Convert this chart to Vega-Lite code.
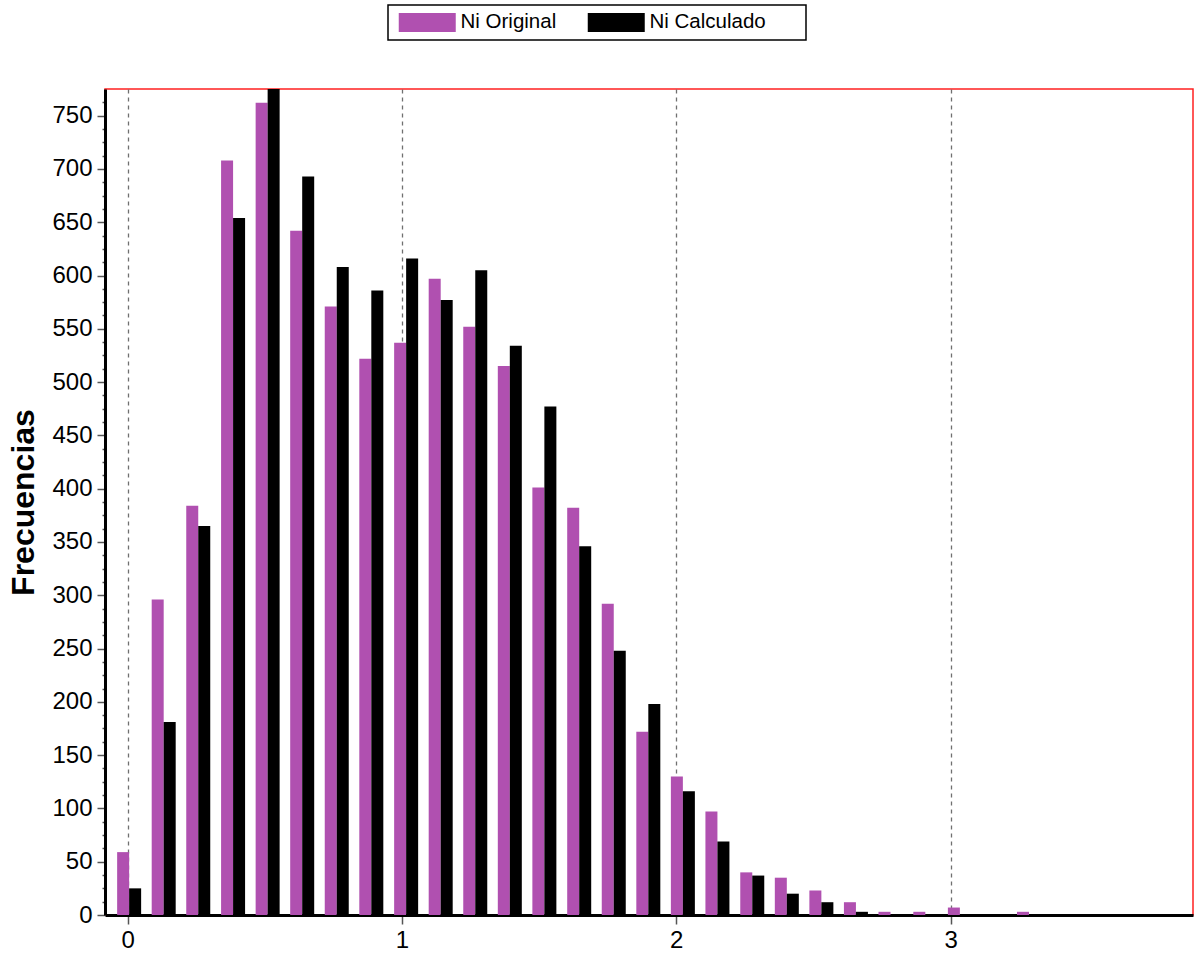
{
  "$schema": "https://vega.github.io/schema/vega-lite/v6.json",
  "width": 1088,
  "height": 826,
  "autosize": {"type": "none"},
  "padding": {"left": 105, "top": 89, "right": 6, "bottom": 40},
  "background": "white",
  "config": {
    "view": {"stroke": "#FF2020", "strokeWidth": 1.5},
    "font": "Liberation Sans",
    "axis": {"labelFont": "Liberation Sans", "titleFont": "Liberation Sans"}
  },
  "data": {
    "values": [
      {"x": 0.005, "serie": "Ni Original", "n": 59}, {"x": 0.005, "serie": "Ni Calculado", "n": 25},
      {"x": 0.131, "serie": "Ni Original", "n": 296}, {"x": 0.131, "serie": "Ni Calculado", "n": 181},
      {"x": 0.257, "serie": "Ni Original", "n": 384}, {"x": 0.257, "serie": "Ni Calculado", "n": 365},
      {"x": 0.384, "serie": "Ni Original", "n": 708}, {"x": 0.384, "serie": "Ni Calculado", "n": 654},
      {"x": 0.510, "serie": "Ni Original", "n": 762}, {"x": 0.510, "serie": "Ni Calculado", "n": 785},
      {"x": 0.636, "serie": "Ni Original", "n": 642}, {"x": 0.636, "serie": "Ni Calculado", "n": 693},
      {"x": 0.762, "serie": "Ni Original", "n": 571}, {"x": 0.762, "serie": "Ni Calculado", "n": 608},
      {"x": 0.888, "serie": "Ni Original", "n": 522}, {"x": 0.888, "serie": "Ni Calculado", "n": 586},
      {"x": 1.015, "serie": "Ni Original", "n": 537}, {"x": 1.015, "serie": "Ni Calculado", "n": 616},
      {"x": 1.141, "serie": "Ni Original", "n": 597}, {"x": 1.141, "serie": "Ni Calculado", "n": 577},
      {"x": 1.267, "serie": "Ni Original", "n": 552}, {"x": 1.267, "serie": "Ni Calculado", "n": 605},
      {"x": 1.393, "serie": "Ni Original", "n": 515}, {"x": 1.393, "serie": "Ni Calculado", "n": 534},
      {"x": 1.519, "serie": "Ni Original", "n": 401}, {"x": 1.519, "serie": "Ni Calculado", "n": 477},
      {"x": 1.646, "serie": "Ni Original", "n": 382}, {"x": 1.646, "serie": "Ni Calculado", "n": 346},
      {"x": 1.772, "serie": "Ni Original", "n": 292}, {"x": 1.772, "serie": "Ni Calculado", "n": 248},
      {"x": 1.898, "serie": "Ni Original", "n": 172}, {"x": 1.898, "serie": "Ni Calculado", "n": 198},
      {"x": 2.024, "serie": "Ni Original", "n": 130}, {"x": 2.024, "serie": "Ni Calculado", "n": 116},
      {"x": 2.150, "serie": "Ni Original", "n": 97}, {"x": 2.150, "serie": "Ni Calculado", "n": 69},
      {"x": 2.277, "serie": "Ni Original", "n": 40}, {"x": 2.277, "serie": "Ni Calculado", "n": 37},
      {"x": 2.403, "serie": "Ni Original", "n": 35}, {"x": 2.403, "serie": "Ni Calculado", "n": 20},
      {"x": 2.529, "serie": "Ni Original", "n": 23}, {"x": 2.529, "serie": "Ni Calculado", "n": 12},
      {"x": 2.655, "serie": "Ni Original", "n": 12}, {"x": 2.655, "serie": "Ni Calculado", "n": 3},
      {"x": 2.781, "serie": "Ni Original", "n": 3}, {"x": 2.781, "serie": "Ni Calculado", "n": 0},
      {"x": 2.908, "serie": "Ni Original", "n": 3}, {"x": 2.908, "serie": "Ni Calculado", "n": 0},
      {"x": 3.034, "serie": "Ni Original", "n": 7}, {"x": 3.034, "serie": "Ni Calculado", "n": 0},
      {"x": 3.160, "serie": "Ni Original", "n": 0}, {"x": 3.160, "serie": "Ni Calculado", "n": 0},
      {"x": 3.286, "serie": "Ni Original", "n": 3}, {"x": 3.286, "serie": "Ni Calculado", "n": 0}
    ]
  },
  "encoding": {
    "x": {
      "field": "x", "type": "quantitative",
      "scale": {"domain": [-0.083, 3.884], "nice": false, "zero": false, "padding": 0},
      "axis": {
        "title": null,
        "values": [0, 0.25, 0.5, 0.75, 1, 1.25, 1.5, 1.75, 2, 2.25, 2.5, 2.75, 3, 3.25, 3.5, 3.75],
        "format": "d",
        "labelExpr": "datum.value % 1 === 0 ? datum.label : ''",
        "labelFontSize": 24,
        "labelColor": "#000000",
        "labelPadding": 4,
        "labelFlush": false,
        "labelOverlap": false,
        "domainColor": "#000000",
        "domainWidth": 3,
        "tickColor": "#555555",
        "tickWidth": 1.5,
        "tickSize": {"condition": {"test": "datum.value % 1 === 0", "value": 9}, "value": 5},
        "grid": true,
        "gridColor": "#707070",
        "gridDash": [4, 4],
        "gridWidth": 1.3,
        "gridOpacity": {"condition": {"test": "datum.value % 1 === 0", "value": 1}, "value": 0}
      }
    },
    "y": {
      "field": "n", "type": "quantitative",
      "scale": {"domain": [0, 775], "nice": false, "padding": 0},
      "axis": {
        "title": "Frecuencias",
        "titleFontSize": 32,
        "titleFontWeight": "bold",
        "titleColor": "#000000",
        "titlePadding": 11,
        "values": [0, 12.5, 25, 37.5, 50, 62.5, 75, 87.5, 100, 112.5, 125, 137.5, 150, 162.5, 175, 187.5, 200, 212.5, 225, 237.5, 250, 262.5, 275, 287.5, 300, 312.5, 325, 337.5, 350, 362.5, 375, 387.5, 400, 412.5, 425, 437.5, 450, 462.5, 475, 487.5, 500, 512.5, 525, 537.5, 550, 562.5, 575, 587.5, 600, 612.5, 625, 637.5, 650, 662.5, 675, 687.5, 700, 712.5, 725, 737.5, 750, 762.5],
        "labelExpr": "datum.value % 50 === 0 ? datum.label : ''",
        "labelFontSize": 24,
        "labelColor": "#000000",
        "labelPadding": 5,
        "labelFlush": false,
        "labelOverlap": false,
        "domainColor": "#000000",
        "domainWidth": 3,
        "tickColor": "#555555",
        "tickWidth": 1.5,
        "tickSize": {"condition": {"test": "datum.value % 50 === 0", "value": 8}, "value": 3},
        "grid": false
      }
    },
    "color": {
      "field": "serie", "type": "nominal",
      "scale": {"domain": ["Ni Original", "Ni Calculado"], "range": ["#B050B0", "#000000"]},
      "legend": {
        "title": " ",
        "titleOrient": "right",
        "titlePadding": 33,
        "titleFontSize": 21,
        "orient": "none",
        "legendX": 283,
        "legendY": -84,
        "direction": "horizontal",
        "columns": 2,
        "gridAlign": "all",
        "columnPadding": 7,
        "padding": 7,
        "fillColor": "#FFFFFF",
        "strokeColor": "#000000",
        "symbolType": "M-3,-1L3,-1L3,1L-3,1Z",
        "symbolSize": 361,
        "symbolOffset": 22,
        "symbolStrokeWidth": 0,
        "labelOffset": 23,
        "labelFontSize": 20.5,
        "labelColor": "#000000",
        "labelFont": "Liberation Sans",
        "encode": {"legend": {"update": {"strokeWidth": {"value": 1.5}}}}
      }
    }
  },
  "layer": [
    {
      "transform": [{"filter": "datum.serie === 'Ni Original'"}],
      "mark": {"type": "bar", "width": 12, "xOffset": -6, "clip": true}
    },
    {
      "transform": [{"filter": "datum.serie === 'Ni Calculado'"}],
      "mark": {"type": "bar", "width": 12, "xOffset": 6, "clip": true}
    }
  ]
}
